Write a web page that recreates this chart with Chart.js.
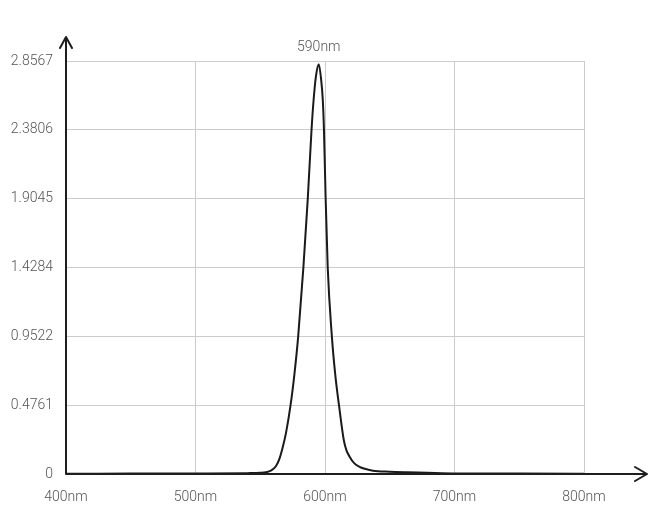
<!DOCTYPE html>
<html>
<head>
<meta charset="utf-8">
<script src="https://cdn.jsdelivr.net/npm/chart.js@4/dist/chart.umd.min.js"></script>
<style>
html,body{margin:0;padding:0;background:#fff;}
canvas{display:block;}
</style>
</head>
<body>
<canvas id="c" width="648" height="512"></canvas>
<script>
// ---- data ----
const wavelengths = [400,450,500,540,550,554.4,558.5,562.2,565,567.5,570,573.4,576.5,579.3,583.3,586.7,589.6,591.2,593,595.2,597,598.3,599.2,600.5,602.1,605.3,608,610.8,614.5,616.5,619,622.5,626.7,630,637,650,663,690,750,800];
const intensity   = [0.002,0.003,0.004,0.006,0.008,0.012,0.025,0.055,0.11,0.19,0.29,0.476,0.70,0.952,1.428,1.905,2.381,2.587,2.75,2.835,2.73,2.587,2.381,1.905,1.428,0.952,0.68,0.476,0.235,0.165,0.12,0.075,0.05,0.038,0.023,0.016,0.012,0.006,0.003,0.002];
const xTicks = [400,500,600,700,800];
const xTickLabels = ['400nm','500nm','600nm','700nm','800nm'];
const yTicks = [0,0.4761,0.9522,1.4284,1.9045,2.3806,2.8567];
const yTickLabels = ['0','0.4761','0.9522','1.4284','1.9045','2.3806','2.8567'];
const peakLabel = '590nm';

const points = wavelengths.map((w,i)=>({x:w,y:intensity[i]}));
let peakIdx = 0;
intensity.forEach((v,i)=>{ if(v>intensity[peakIdx]) peakIdx=i; });

const FONT = {family:'Roboto', size:14, weight:'300'};
const TEXT = '#555';

const decor = {
  id:'decor',
  afterDatasetsDraw(chart){
    const ctx = chart.ctx;
    const xs = chart.scales.x, ys = chart.scales.y;
    const x0 = xs.getPixelForValue(xTicks[0]);
    const y0 = ys.getPixelForValue(0);
    ctx.save();
    ctx.strokeStyle = '#1e1e1e';
    ctx.lineWidth = 2;
    ctx.lineCap = 'round';
    ctx.lineJoin = 'round';
    // y axis with arrow
    ctx.beginPath();
    ctx.moveTo(x0, y0); ctx.lineTo(x0, 37);
    ctx.moveTo(x0-6, 48); ctx.lineTo(x0, 37); ctx.lineTo(x0+6, 48);
    // x axis with arrow
    ctx.moveTo(x0, y0); ctx.lineTo(647, y0);
    ctx.moveTo(635, y0-7); ctx.lineTo(647, y0); ctx.lineTo(635, y0+7);
    ctx.stroke();
    // peak label
    ctx.fillStyle = TEXT;
    ctx.font = '300 14px Roboto';
    ctx.textAlign = 'center';
    ctx.textBaseline = 'middle';
    ctx.fillText(peakLabel, xs.getPixelForValue(wavelengths[peakIdx]), 47);
    ctx.restore();
  }
};

new Chart(document.getElementById('c'), {
  type:'line',
  data:{datasets:[{
    data: points,
    borderColor:'#1a1a1a',
    borderWidth:2,
    pointRadius:0,
    fill:false,
    cubicInterpolationMode:'monotone'
  }]},
  options:{
    responsive:false,
    animation:false,
    devicePixelRatio:1,
    layout:{padding:{top:61,right:64,left:0,bottom:0}},
    plugins:{legend:{display:false},tooltip:{enabled:false}},
    scales:{
      x:{
        type:'linear', min:400, max:800,
        afterBuildTicks(s){ s.ticks = xTicks.map(v=>({value:v})); },
        afterFit(s){ s.height = 38; },
        ticks:{ padding:15, color:TEXT, font:FONT, maxRotation:0,
          callback:(v)=>xTickLabels[xTicks.indexOf(v)] },
        grid:{ color:'#cccccc', lineWidth:1, drawTicks:false },
        border:{ display:false }
      },
      y:{
        type:'linear', min:0, max:2.8567,
        afterBuildTicks(s){ s.ticks = yTicks.map(v=>({value:v})); },
        afterFit(s){ s.width = 66; },
        ticks:{ padding:13, color:TEXT, font:FONT,
          callback:(v)=>yTickLabels[yTicks.indexOf(v)] },
        grid:{ color:'#cccccc', lineWidth:1, drawTicks:false },
        border:{ display:false }
      }
    }
  },
  plugins:[decor]
});
</script>
</body>
</html>
